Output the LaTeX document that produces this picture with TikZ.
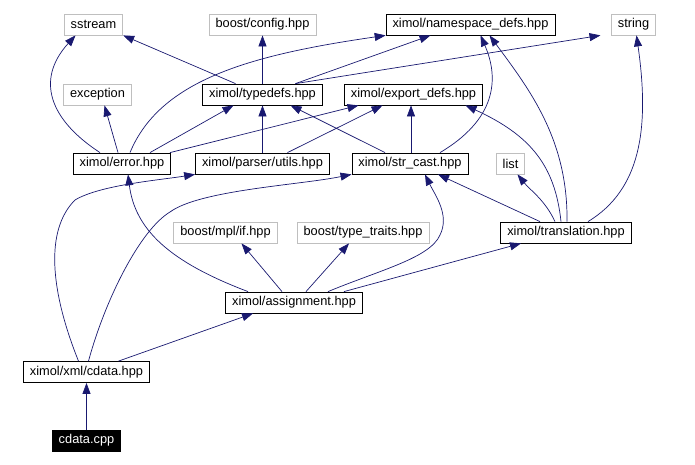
\documentclass[tikz,border=0pt]{standalone}
\usepackage{fontspec}
\setmainfont{Liberation Sans}
\usepackage{xcolor}
\usepackage{tikz}
\usetikzlibrary{arrows.meta,positioning}

\definecolor{edgeblue}{HTML}{191970}
\definecolor{extgray}{HTML}{BFBFBF}

\begin{document}
\begin{tikzpicture}[
  x=1pt,y=-1pt,
  font=\fontsize{12.8pt}{14pt}\selectfont,
  hdr/.style={draw,line width=0.8pt,minimum height=21pt,inner xsep=6.5pt,inner ysep=0pt,fill=white},
  ext/.style={hdr,draw=extgray},
  src/.style={hdr,fill=black,text=white},
  dep/.style={-{Triangle[length=11pt,width=8pt]},color=edgeblue,line width=0.7pt}
]
\useasboundingbox (0,0) rectangle (695,465);

% system headers
\node[ext] (sstream)    at (93.5,24.5)  {sstream};
\node[ext] (config)     at (262.5,24.5) {boost/config.hpp};
\node[ext] (stringh)    at (633.5,24.5) {string};
\node[ext] (exception)  at (97.5,94.5)  {exception};
\node[ext] (listh)      at (510.5,163.5) {list};
\node[ext] (ifhpp)      at (225.5,232.5) {boost/mpl/if.hpp};
\node[ext] (typetraits) at (363,232.5)  {boost/type\_traits.hpp};

% ximol headers
\node[hdr] (nsdefs)      at (470.5,24.5)  {ximol/namespace\_defs.hpp};
\node[hdr] (typedefs)    at (262.5,94.5)  {ximol/typedefs.hpp};
\node[hdr] (exportdefs)  at (413.5,94.5)  {ximol/export\_defs.hpp};
\node[hdr] (errorh)      at (122,163.5)   {ximol/error.hpp};
\node[hdr] (utils)       at (262.5,163.5) {ximol/parser/utils.hpp};
\node[hdr] (strcast)     at (410,163.5)   {ximol/str\_cast.hpp};
\node[hdr] (translation) at (566,232.5)   {ximol/translation.hpp};
\node[hdr] (assignment)  at (294,302.5)   {ximol/assignment.hpp};
\node[hdr] (cdata)       at (86.5,372)    {ximol/xml/cdata.hpp};
\node[src] (cdatacpp)    at (86.5,440.5)  {cdata.cpp};

% includes
\draw[dep] (cdatacpp) -- (cdata);
\draw[dep] ([xshift=32pt]cdata.north) -- ([xshift=-41pt]assignment.south);
\draw[dep] ([xshift=-8pt]cdata.north) .. controls (50,290) and (45,230) .. (75,200)
  .. controls (100,185) and (160,180) .. (utils.south west);
\draw[dep] ([xshift=2pt]cdata.north) .. controls (105,300) and (140,230) .. (170,212)
  .. controls (200,190) and (300,185) .. (strcast.south west);

\draw[dep] ([xshift=-46pt]assignment.north) .. controls (170,262) and (135,230) .. ([xshift=6pt]errorh.south);
\draw[dep] ([xshift=-12pt]assignment.north) -- ([xshift=16pt]ifhpp.south);
\draw[dep] ([xshift=12pt]assignment.north) -- ([xshift=-14pt]typetraits.south);
\draw[dep] ([xshift=34pt]assignment.north) .. controls (380,270) and (430,258) .. (440,235)
  .. controls (450,215) and (435,195) .. ([xshift=15pt]strcast.south);
\draw[dep] ([xshift=50pt]assignment.north) -- ([xshift=-45pt]translation.south);

\draw[dep] ([xshift=-26pt]translation.north) -- ([xshift=28pt]strcast.south);
\draw[dep] ([xshift=-11pt]translation.north) .. controls (545,200) and (530,190) .. ([xshift=7pt]listh.south);
\draw[dep] ([xshift=-5pt]translation.north) .. controls (555,165) and (530,135) .. ([xshift=52pt]exportdefs.south);
\draw[dep] ([xshift=1pt]translation.north) .. controls (568,140) and (530,90) .. ([xshift=19pt]nsdefs.south);
\draw[dep] ([xshift=22pt]translation.north) .. controls (640,190) and (650,130) .. ([xshift=3pt]stringh.south);

\draw[dep] ([xshift=30pt]strcast.north) .. controls (495,120) and (500,80) .. ([xshift=10pt]nsdefs.south);
\draw[dep] ([xshift=1pt]strcast.north) -- ([xshift=-2.5pt]exportdefs.south);
\draw[dep] ([xshift=-25pt]strcast.north) -- ([xshift=28pt]typedefs.south);

\draw[dep] ([xshift=25pt]utils.north) -- ([xshift=-31pt]exportdefs.south);
\draw[dep] (utils) -- (typedefs);

\draw[dep] ([xshift=28pt]errorh.north) -- ([xshift=-29pt]typedefs.south);
\draw[dep] ([xshift=48pt]errorh.north) -- ([xshift=-55pt]exportdefs.south);
\draw[dep] ([xshift=8pt]errorh.north) .. controls (160,80) and (250,55) .. (nsdefs.south west);
\draw[dep] ([xshift=-22pt]errorh.north) .. controls (50,120) and (35,80) .. ([xshift=-18pt]sstream.south);
\draw[dep] ([xshift=-4pt]errorh.north) -- ([xshift=7pt]exception.south);

\draw[dep] ([xshift=-27pt]typedefs.north) -- (sstream.south east);
\draw[dep] (typedefs) -- (config);
\draw[dep] ([xshift=33pt]typedefs.north) -- ([xshift=-40pt]nsdefs.south);
\draw[dep] ([xshift=33pt]typedefs.north) -- ([xshift=-33pt]stringh.south);
\end{tikzpicture}
\end{document}
